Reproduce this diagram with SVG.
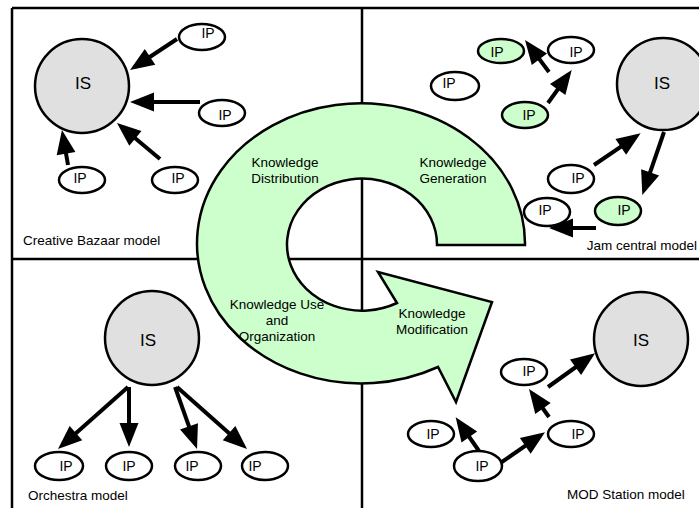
<svg xmlns="http://www.w3.org/2000/svg" width="699" height="508" viewBox="0 0 699 508">
<defs>
<marker id="ah" markerUnits="userSpaceOnUse" markerWidth="24" markerHeight="19" refX="18.5" refY="9.5" orient="auto" overflow="visible">
<path d="M0,0 L24,9.5 L0,19 Z" fill="#000"/>
</marker>
<style>
.frame{stroke:#000;stroke-width:2.5;fill:none}
.is{fill:#e0e0e0;stroke:#000;stroke-width:2.5}
.ip{fill:#fff;stroke:#000;stroke-width:2.5}
.ipg{fill:#ccffcc;stroke:#000;stroke-width:2.5}
.ring{fill:#ccffcc;stroke:#000;stroke-width:2.5;stroke-linejoin:miter}
.con line{stroke:#000;stroke-width:4;marker-end:url(#ah)}
text{font-family:"Liberation Sans",Arial,sans-serif;fill:#000}
.t{font-size:14px;text-anchor:middle}
.big{font-size:17px;text-anchor:middle}
.lbl{font-size:13.5px;text-anchor:middle}
.cap{font-size:13.5px}
</style>
</defs>
<rect width="699" height="508" fill="#fff"/>
<g id="frame" class="frame">
<line x1="12" y1="8" x2="699" y2="8"/>
<line x1="12" y1="8" x2="12" y2="508"/>
<line x1="362" y1="8" x2="362" y2="508"/>
<line x1="12" y1="259" x2="699" y2="259"/>
</g>
<g id="cycle">
<path class="ring" d="M 525 245 A 164 140 0 1 0 438 367 L 456 402 L 492 302 L 378 272 L 397 303 A 75 66 0 1 1 437 245 Z"/>
<text class="lbl" x="285" y="167">Knowledge</text>
<text class="lbl" x="285" y="183">Distribution</text>
<text class="lbl" x="453" y="167">Knowledge</text>
<text class="lbl" x="453" y="183">Generation</text>
<text class="lbl" x="277" y="309">Knowledge Use</text>
<text class="lbl" x="277" y="325">and</text>
<text class="lbl" x="277" y="341">Organization</text>
<text class="lbl" x="432" y="318">Knowledge</text>
<text class="lbl" x="432" y="334">Modification</text>
</g>
<g id="connectors" class="con">
<line x1="177" y1="39" x2="134.6" y2="67"/>
<line x1="200" y1="102" x2="135.5" y2="102"/>
<line x1="160" y1="159" x2="121.2" y2="126.5"/>
<line x1="68" y1="165" x2="62.9" y2="135.4"/>
<line x1="549" y1="72" x2="528.3" y2="44.4"/>
<line x1="548" y1="103" x2="568.5" y2="74.5"/>
<line x1="594" y1="165" x2="636.1" y2="136.4"/>
<line x1="664" y1="132" x2="644.1" y2="189.8"/>
<line x1="596" y1="228" x2="554.5" y2="228"/>
<line x1="128" y1="387" x2="62.1" y2="445.4"/>
<line x1="129" y1="387" x2="129" y2="441.5"/>
<line x1="175" y1="387" x2="195.2" y2="443.8"/>
<line x1="177" y1="387" x2="242.9" y2="445.4"/>
<line x1="548" y1="387" x2="590.6" y2="356.5"/>
<line x1="549" y1="417" x2="532.2" y2="393.5"/>
<line x1="499" y1="464" x2="540.5" y2="435.4"/>
<line x1="479" y1="451" x2="458.8" y2="421.8"/>
</g>
<g id="bazaar-IS"><circle class="is" cx="82" cy="86" r="47"/><text class="big" x="83" y="89">IS</text></g>
<g id="bazaar-IP1"><ellipse class="ip" cx="202" cy="37" rx="23" ry="13"/><text class="t" x="208" y="38">IP</text></g>
<g id="bazaar-IP2"><ellipse class="ip" cx="222" cy="113" rx="23" ry="13"/><text class="t" x="225" y="120">IP</text></g>
<g id="bazaar-IP3"><ellipse class="ip" cx="82" cy="180" rx="23" ry="13"/><text class="t" x="80" y="183">IP</text></g>
<g id="bazaar-IP4"><ellipse class="ip" cx="175" cy="180" rx="23" ry="13"/><text class="t" x="178" y="183">IP</text></g>
<text class="cap" x="23" y="245">Creative Bazaar model</text>
<g id="jam-IS"><circle class="is" cx="663" cy="84" r="46"/><text class="big" x="662" y="89">IS</text></g>
<g id="jam-IP1"><ellipse class="ipg" cx="501" cy="51" rx="23" ry="12"/><text class="t" x="497" y="57">IP</text></g>
<g id="jam-IP2"><ellipse class="ip" cx="571" cy="50" rx="23" ry="13"/><text class="t" x="576" y="57">IP</text></g>
<g id="jam-IP3"><ellipse class="ip" cx="455" cy="86" rx="24" ry="14"/><text class="t" x="449" y="88">IP</text></g>
<g id="jam-IP4"><ellipse class="ipg" cx="525" cy="115" rx="23" ry="13"/><text class="t" x="529" y="120">IP</text></g>
<g id="jam-IP5"><ellipse class="ip" cx="571" cy="179" rx="23" ry="14"/><text class="t" x="578" y="183">IP</text></g>
<g id="jam-IP6"><ellipse class="ip" cx="547" cy="212" rx="23" ry="14"/><text class="t" x="545" y="215">IP</text></g>
<g id="jam-IP7"><ellipse class="ipg" cx="618" cy="211" rx="23" ry="14"/><text class="t" x="624" y="215">IP</text></g>
<text class="cap" x="697" y="250" text-anchor="end">Jam central model</text>
<g id="orch-IS"><circle class="is" cx="152" cy="338" r="47"/><text class="big" x="148" y="346">IS</text></g>
<g id="orch-IP1"><ellipse class="ip" cx="59" cy="466" rx="24" ry="14"/><text class="t" x="66" y="471">IP</text></g>
<g id="orch-IP2"><ellipse class="ip" cx="129" cy="466" rx="23" ry="14"/><text class="t" x="129" y="471">IP</text></g>
<g id="orch-IP3"><ellipse class="ip" cx="198" cy="466" rx="23" ry="14"/><text class="t" x="192" y="471">IP</text></g>
<g id="orch-IP4"><ellipse class="ip" cx="265" cy="466" rx="23" ry="14"/><text class="t" x="255" y="471">IP</text></g>
<text class="cap" x="28" y="500">Orchestra model</text>
<g id="mod-IS"><circle class="is" cx="641" cy="339" r="47"/><text class="big" x="641" y="346">IS</text></g>
<g id="mod-IP1"><ellipse class="ip" cx="524" cy="372" rx="23" ry="13"/><text class="t" x="529" y="376">IP</text></g>
<g id="mod-IP2"><ellipse class="ip" cx="571" cy="434" rx="23" ry="13"/><text class="t" x="578" y="439">IP</text></g>
<g id="mod-IP3"><ellipse class="ip" cx="431" cy="434" rx="23" ry="13"/><text class="t" x="433" y="439">IP</text></g>
<g id="mod-IP4"><ellipse class="ip" cx="478" cy="466" rx="24" ry="15"/><text class="t" x="482" y="471">IP</text></g>
<text class="cap" x="567" y="499">MOD Station model</text>
</svg>
